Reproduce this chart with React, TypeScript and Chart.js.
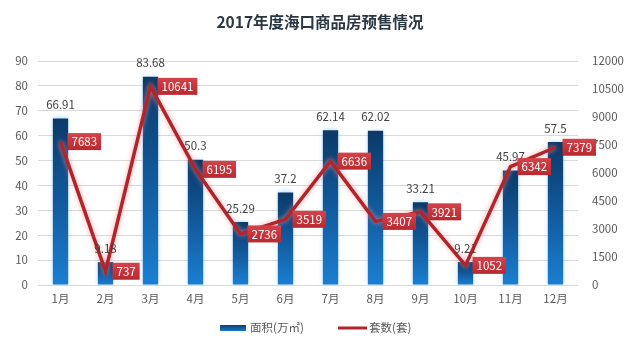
import React, { useEffect, useRef } from "react";
import { Chart, registerables } from "chart.js";

Chart.register(...registerables);

const months = ["1月", "2月", "3月", "4月", "5月", "6月", "7月", "8月", "9月", "10月", "11月", "12月"];
const areaValues = [66.91, 9.18, 83.68, 50.3, 25.29, 37.2, 62.14, 62.02, 33.21, 9.21, 45.97, 57.5];
const unitValues = [7683, 737, 10641, 6195, 2736, 3519, 6636, 3407, 3921, 1052, 6342, 7379];
const titleText = "2017年度海口商品房预售情况";
const areaLabel = "面积(万㎡)";
const unitLabel = "套数(套)";

const FONT = "'Noto Sans CJK SC', 'Microsoft YaHei', sans-serif";

const effectsPlugin = {
  id: "effects",
  beforeDatasetDraw(chart: any, args: any) {
    const ctx = chart.ctx;
    ctx.save();
    if (args.index === 0) {
      ctx.shadowColor = "rgba(120,190,255,0.7)";
      ctx.shadowBlur = 5;
    } else {
      ctx.shadowColor = "rgba(255,140,140,0.8)";
      ctx.shadowBlur = 5;
    }
  },
  afterDatasetDraw(chart: any) {
    chart.ctx.restore();
  },
  afterDraw(chart: any) {
    const ctx = chart.ctx;
    // title
    ctx.save();
    ctx.font = `bold 15.5px ${FONT}`;
    ctx.fillStyle = "#2a3642";
    ctx.textAlign = "center";
    ctx.textBaseline = "middle";
    ctx.fillText(titleText, 320, 22);
    ctx.restore();

    // bar labels
    const barMeta = chart.getDatasetMeta(0);
    ctx.save();
    ctx.font = `11.5px ${FONT}`;
    ctx.fillStyle = "#404040";
    ctx.textAlign = "center";
    ctx.textBaseline = "bottom";
    barMeta.data.forEach((el: any, i: number) => {
      ctx.fillText(String(areaValues[i]), el.x, el.y - 8);
    });
    ctx.restore();

    // line labels
    const lineMeta = chart.getDatasetMeta(1);
    ctx.save();
    ctx.font = `11.5px ${FONT}`;
    ctx.textBaseline = "middle";
    ctx.textAlign = "left";
    lineMeta.data.forEach((el: any, i: number) => {
      const txt = String(unitValues[i]);
      const w = ctx.measureText(txt).width + 8;
      const h = 17;
      const x = el.x + 7;
      const y = el.y - h / 2;
      const g = ctx.createLinearGradient(0, y, 0, y + h);
      g.addColorStop(0, "#d4434a");
      g.addColorStop(1, "#b8282f");
      ctx.fillStyle = g;
      ctx.fillRect(x, y, w, h);
      ctx.fillStyle = "#ffffff";
      ctx.fillText(txt, x + 4, el.y + 0.5);
    });
    ctx.restore();

    // legend
    ctx.save();
    const lg = ctx.createLinearGradient(0, 325, 0, 331);
    lg.addColorStop(0, "#0d3f70");
    lg.addColorStop(1, "#1a78c8");
    ctx.fillStyle = lg;
    ctx.fillRect(220, 325, 26, 6);
    ctx.strokeStyle = "#b0252b";
    ctx.lineWidth = 3;
    ctx.beginPath();
    ctx.moveTo(338, 328);
    ctx.lineTo(367, 328);
    ctx.stroke();
    ctx.font = `11.5px ${FONT}`;
    ctx.fillStyle = "#595959";
    ctx.textBaseline = "middle";
    ctx.textAlign = "left";
    ctx.fillText(areaLabel, 250, 328);
    ctx.fillText(unitLabel, 369, 328);
    ctx.restore();
  },
};

export default function App() {
  const ref = useRef<HTMLCanvasElement | null>(null);
  useEffect(() => {
    if (!ref.current) return;
    const chart = new Chart(ref.current, {
      type: "bar",
      data: {
        labels: months,
        datasets: [
          {
            type: "bar",
            label: areaLabel,
            data: areaValues,
            yAxisID: "y",
            categoryPercentage: 1,
            barPercentage: 0.34,
            order: 2,
            backgroundColor: (c: any) => {
              const chart = c.chart;
              const area = chart.chartArea;
              if (!area) return "#1565a8";
              const v = c.raw ?? 0;
              const top = chart.scales.y.getPixelForValue(v);
              const bottom = chart.scales.y.getPixelForValue(0);
              const g = chart.ctx.createLinearGradient(0, top, 0, bottom + 0.01);
              g.addColorStop(0, "#0b3a68");
              g.addColorStop(0.5, "#125a9c");
              g.addColorStop(1, "#1b7fd2");
              return g;
            },
          } as any,
          {
            type: "line",
            label: unitLabel,
            data: unitValues,
            yAxisID: "y1",
            borderColor: "#b0252b",
            borderWidth: 3.5,
            pointRadius: 0,
            tension: 0,
            order: 1,
          } as any,
        ],
      },
      options: {
        animation: false,
        responsive: false,
        maintainAspectRatio: false,
        layout: { padding: { top: 61, left: 0, right: 0, bottom: 0 } },
        plugins: {
          legend: { display: false },
          title: { display: false },
          tooltip: { enabled: false },
        },
        scales: {
          x: {
            grid: { display: false, drawTicks: false },
            border: { display: false },
            ticks: { color: "#595959", font: { size: 11.5, family: FONT }, padding: 7 },
            afterFit: (s: any) => { s.height = 66; },
          },
          y: {
            position: "left",
            min: 0,
            max: 90,
            grid: { color: "#d9d9d9", drawTicks: false },
            border: { display: false },
            ticks: { stepSize: 10, color: "#595959", font: { size: 11.5, family: FONT }, padding: 10 },
            afterFit: (s: any) => { s.width = 38; },
          },
          y1: {
            position: "right",
            min: 0,
            max: 12000,
            grid: { display: false, drawTicks: false },
            border: { display: false },
            ticks: {
              stepSize: 1500,
              color: "#595959",
              font: { size: 11.5, family: FONT },
              padding: 14,
              callback: (v: any) => String(v),
            },
            afterFit: (s: any) => { s.width = 62; },
          },
        },
      } as any,
      plugins: [effectsPlugin],
    });
    return () => chart.destroy();
  }, []);
  return (
    <div style={{ position: "fixed", left: 0, top: 0, width: 640, height: 351, background: "#ffffff" }}>
      <canvas ref={ref} width={640} height={351} style={{ width: 640, height: 351 }} />
    </div>
  );
}
